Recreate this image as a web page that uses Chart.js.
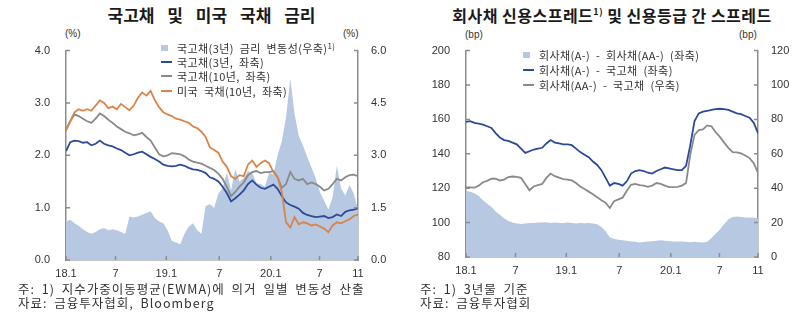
<!DOCTYPE html>
<html>
<head>
<meta charset="utf-8">
<script src="https://cdn.jsdelivr.net/npm/chart.js@4.4.0/dist/chart.umd.min.js"></script>
<style>
    body {
        margin: 0;
        width: 800px;
        height: 329px;
        position: relative;
        overflow: hidden;
        background: #fff;
        color: #333;
        font-family: "Noto Sans CJK KR", sans-serif;
    }
    canvas { position: absolute; }
    .title {
        position: absolute;
        top: 3px;
        text-align: center;
        font-weight: bold;
        font-size: 17px;
        line-height: 24px;
        color: #1a1a1a;
        white-space: nowrap;
    }
    .title sup { font-size: 9px; vertical-align: 7px; line-height: 0; }
    .unit {
        position: absolute;
        font-size: 10px;
        line-height: 12px;
        font-family: "Liberation Sans", "Noto Sans CJK KR", sans-serif;
    }
    .legend {
        position: absolute;
        font-size: 11px;
        letter-spacing: 0.4px;
        word-spacing: 3px;
        color: #333;
        white-space: nowrap;
    }
    .legend .row { display: flex; align-items: center; }
    .legend .mark { width: 16px; display: flex; align-items: center; }
    .legend .box { width: 7px; height: 6px; }
    .legend .line { width: 11px; height: 2px; }
    .legend sup { font-size: 8px; vertical-align: 4px; line-height: 0; }
    .note {
        position: absolute;
        font-size: 12.5px;
        line-height: 14px;
        letter-spacing: 1px;
        word-spacing: 3px;
        color: #333;
        white-space: nowrap;
    }
</style>
</head>
<body>

<div class="title" style="left:66px; width:291px; word-spacing:9px;">국고채 및 미국 국채 금리</div>
<div class="title" style="left:440px; width:344px; font-size:16px; letter-spacing:0.5px;">회사채 신용스프레드<sup>1)</sup> 및 신용등급 간 스프레드</div>

<div class="unit" style="left:65px; top:28px;">(%)</div>
<div class="unit" style="left:343px; top:28px;">(%)</div>
<div class="unit" style="left:465px; top:29px;">(bp)</div>
<div class="unit" style="left:739px; top:29px;">(bp)</div>

<canvas id="rateChart" width="400" height="260" style="left:0; top:28px;"></canvas>
<canvas id="spreadChart" width="400" height="260" style="left:400px; top:28px;"></canvas>

<div class="legend" style="left:161px; top:41px;" id="rateLegend"></div>
<div class="legend" style="left:523px; top:47px;" id="spreadLegend"></div>

<div class="note" style="left:18px; top:282px;">주: 1) 지수가중이동평균(EWMA)에 의거 일별 변동성 산출<br>자료: 금융투자협회, Bloomberg</div>
<div class="note" style="left:420px; top:282px;">주: 1) 3년물 기준<br>자료: 금융투자협회</div>

<script>
// Months since 2018.1 (half-month steps), shared by both charts
const months = [
    0, 0.5, 1, 1.5, 2, 2.5, 3, 3.5, 4, 4.5,
    5, 5.5, 6, 6.5, 7, 7.5, 8, 8.5, 9, 9.5,
    10, 10.5, 11, 11.5, 12, 12.5, 13, 13.5, 14, 14.5,
    15, 15.5, 16, 16.5, 17, 17.5, 18, 18.5, 19, 19.5,
    20, 20.5, 21, 21.5, 22, 22.5, 23, 23.5, 24, 24.5,
    25, 25.5, 26, 26.5, 27, 27.5, 28, 28.5, 29, 29.5,
    30, 30.5, 31, 31.5, 32, 32.5, 33, 33.5, 34, 34.5
];

// X axis tick positions and labels
const xTickValues = [0, 5.85, 11.85, 18.1, 24.2, 29.95, 34.5];
const xTickLabels = ['18.1', '7', '19.1', '7', '20.1', '7', '11'];

// Left chart: rates (%), left axis
const ktb3y = [
    2.08, 2.25, 2.28, 2.27, 2.24, 2.25, 2.19, 2.22, 2.28, 2.22,
    2.19, 2.17, 2.13, 2.10, 2.05, 2.00, 2.02, 2.05, 2.07, 2.02,
    1.97, 1.93, 1.88, 1.82, 1.80, 1.79, 1.80, 1.82, 1.80, 1.76,
    1.73, 1.72, 1.70, 1.66, 1.58, 1.55, 1.50, 1.40, 1.28, 1.12,
    1.18, 1.25, 1.33, 1.45, 1.52, 1.44, 1.38, 1.36, 1.40, 1.44,
    1.36, 1.22, 1.10, 1.05, 1.02, 0.98, 0.90, 0.86, 0.84, 0.82,
    0.83, 0.84, 0.80, 0.82, 0.87, 0.84, 0.92, 0.95, 0.96, 0.99
];
const ktb10y = [
    2.50, 2.65, 2.78, 2.75, 2.70, 2.65, 2.62, 2.70, 2.80, 2.75,
    2.68, 2.62, 2.55, 2.50, 2.45, 2.42, 2.38, 2.40, 2.43, 2.35,
    2.28, 2.15, 2.02, 1.98, 2.00, 2.04, 2.03, 2.02, 1.98, 1.92,
    1.88, 1.86, 1.84, 1.80, 1.76, 1.72, 1.65, 1.55, 1.40, 1.22,
    1.30, 1.40, 1.48, 1.62, 1.68, 1.70, 1.66, 1.68, 1.68, 1.70,
    1.58, 1.38, 1.45, 1.68, 1.55, 1.52, 1.55, 1.45, 1.48, 1.45,
    1.40, 1.33, 1.36, 1.45, 1.55, 1.52, 1.58, 1.62, 1.63, 1.60
];
const us10y = [
    2.47, 2.65, 2.82, 2.88, 2.85, 2.88, 2.85, 2.95, 3.05, 3.00,
    2.90, 2.93, 2.88, 2.98, 2.92, 2.86, 2.95, 3.10, 3.20, 3.14,
    3.23, 3.05, 2.92, 2.82, 2.78, 2.75, 2.70, 2.68, 2.65, 2.62,
    2.55, 2.52, 2.45, 2.35, 2.15, 2.10, 2.05, 1.88, 1.78, 1.60,
    1.55, 1.62, 1.60, 1.82, 1.90, 1.78, 1.85, 1.90, 1.85, 1.68,
    1.58, 1.30, 0.72, 0.62, 0.82, 0.68, 0.72, 0.70, 0.66, 0.68,
    0.64, 0.60, 0.53, 0.66, 0.72, 0.70, 0.74, 0.78, 0.84, 0.87
];
// KTB 3y volatility (right axis)
const ktb3yVol = [
    1.10, 1.15, 1.05, 0.98, 0.88, 0.80, 0.75, 0.80, 0.88, 0.92,
    0.85, 0.88, 0.85, 0.80, 0.75, 1.25, 1.22, 1.25, 1.30, 1.35,
    1.40, 1.20, 1.10, 1.05, 0.85, 0.55, 0.50, 0.45, 0.75, 0.95,
    1.05, 0.85, 0.75, 1.55, 1.60, 1.50, 1.90, 2.05, 2.50, 2.00,
    2.60, 2.25, 2.35, 2.55, 2.50, 2.20, 2.18, 2.10, 2.50, 2.45,
    3.00, 3.40, 4.10, 5.20, 4.20, 3.55, 3.28, 2.95, 2.65, 2.35,
    1.95, 1.70, 1.45, 1.80, 2.70, 2.05, 1.85, 2.15, 1.90, 1.45
];

// Right chart: spreads (bp)
const spreadAvsAA = [
    118.5, 118, 117, 115.5, 113, 111, 109, 106.5, 104.5, 102.5,
    101, 100, 99.5, 99.2, 99.5, 99.8, 99.8, 100, 100, 100.2,
    99.8, 100, 99.8, 99.8, 100, 99.8, 99.5, 99.8, 99.6, 99.8,
    99.5, 99, 97.5, 95, 91.5, 90.5, 90, 89.8, 89.4, 89,
    88.8, 88.5, 88.7, 89, 89.2, 89.5, 89.8, 89.5, 89.2, 89,
    89, 89, 88.8, 88.6, 88.8, 88.6, 88.5, 88.8, 91, 93.5,
    96, 99, 102, 103.2, 103.5, 103.2, 103, 103, 102.8, 102.6
];
const spreadAvsKtb = [
    158.5, 159, 158, 157.5, 157, 156, 155, 152, 149.5, 148,
    147.5, 146.5, 145.5, 143, 140.5, 141.5, 142.5, 143, 143.5, 146,
    148, 146.5, 146, 145.5, 145.5, 145, 143, 141, 139.5, 138,
    135.5, 133.5, 130.5, 126, 121.5, 123, 122.5, 121.5, 124, 128.5,
    130, 130.5, 130, 129, 128.5, 130, 131, 132, 131.5, 131,
    130.5, 130.5, 133, 145, 159, 163.5, 164.5, 165, 165.5, 166,
    166.2, 166, 165.5, 164.5, 163.5, 163, 162, 161, 158, 152
];
const spreadAAvsKtb = [
    40.5, 40.5, 40.3, 41.5, 43.5, 44.3, 45.5, 45.5, 44.5, 45,
    46.5, 46.8, 46.6, 46, 42.5, 38.8, 41, 41.8, 42.5, 46,
    48.5, 47, 46.2, 45.3, 45, 44.5, 43, 41, 39.5, 38,
    36.5, 34.8, 33, 31.5, 28.5, 32.5, 33.5, 34.5, 38.5, 42,
    42.5, 41.8, 41.5, 40.8, 41.5, 43, 42.5, 41.5, 40.6, 40.6,
    40.8, 41.5, 43, 59.5, 71, 73.8, 74.2, 76.5, 76, 72.5,
    69.8, 66.5, 63.5, 61, 60.8, 60.2, 59, 57.5, 54.5, 49
];

// Colours
const fillColor = '#b6c8e2';
const blueColor = '#2c4a9a';
const grayColor = '#8a8a8a';
const orangeColor = '#d9844a';
const axisColor = '#8c8c8c';
const tickFont = { family: 'Liberation Sans', size: 11 };

// Zip x and y into points
function toPoints(values) {
    return months.map((m, i) => ({ x: m, y: values[i] }));
}

// Plugin that draws short tick marks pointing into the plot
const innerTicks = {
    id: 'innerTicks',
    afterDraw(chart) {
        const ctx = chart.ctx;
        const area = chart.chartArea;
        ctx.save();
        ctx.strokeStyle = axisColor;
        ctx.lineWidth = 1.5;
        ctx.beginPath();
        chart.scales.x.ticks.forEach((t, i) => {
            const px = chart.scales.x.getPixelForTick(i);
            ctx.moveTo(px, area.bottom);
            ctx.lineTo(px, area.bottom - 4);
        });
        chart.scales.y.ticks.forEach((t, i) => {
            const py = chart.scales.y.getPixelForTick(i);
            ctx.moveTo(area.left, py);
            ctx.lineTo(area.left + 4, py);
        });
        chart.scales.y1.ticks.forEach((t, i) => {
            const py = chart.scales.y1.getPixelForTick(i);
            ctx.moveTo(area.right, py);
            ctx.lineTo(area.right - 4, py);
        });
        ctx.stroke();
        ctx.restore();
    }
};

// Build the shared options for both charts
function makeOptions(yRange, y1Range, digits, topPad, xHeight) {
    return {
        responsive: false,
        animation: false,
        layout: { padding: { top: topPad, left: 0, right: 0, bottom: 0 } },
        plugins: { legend: { display: false }, tooltip: { enabled: false } },
        elements: { point: { radius: 0 }, line: { tension: 0 } },
        scales: {
            x: {
                type: 'linear',
                min: 0,
                max: 34.5,
                afterBuildTicks: scale => { scale.ticks = xTickValues.map(v => ({ value: v })); },
                afterFit: scale => { scale.height = xHeight; },
                grid: { display: false, drawTicks: false },
                border: { display: true, color: axisColor, width: 1.5 },
                ticks: {
                    padding: 7,
                    font: tickFont,
                    color: '#333',
                    maxRotation: 0,
                    callback: (v, i) => xTickLabels[i]
                }
            },
            y: {
                position: 'left',
                min: yRange[0],
                max: yRange[1],
                afterFit: scale => { scale.width = 66; },
                grid: { display: false, drawTicks: false },
                border: { display: true, color: axisColor, width: 1.5 },
                ticks: { stepSize: yRange[2], padding: 16, font: tickFont, color: '#333',
                    callback: v => v.toFixed(digits) }
            },
            y1: {
                position: 'right',
                min: y1Range[0],
                max: y1Range[1],
                afterFit: scale => { scale.width = 42; },
                grid: { display: false, drawTicks: false },
                border: { display: true, color: axisColor, width: 1.5 },
                ticks: { stepSize: y1Range[2], padding: 13, font: tickFont, color: '#333',
                    callback: v => v.toFixed(digits) }
            }
        }
    };
}

// Chart 1: KTB and US treasury rates
function drawRateChart() {
    const ctx = document.getElementById('rateChart').getContext('2d');
    new Chart(ctx, {
        type: 'line',
        data: {
            datasets: [
                { label: '미국 국채(10년, 좌축)', data: toPoints(us10y), borderColor: orangeColor,
                  borderWidth: 1.8, yAxisID: 'y', order: 1 },
                { label: '국고채(3년, 좌축)', data: toPoints(ktb3y), borderColor: blueColor,
                  borderWidth: 1.8, yAxisID: 'y', order: 2 },
                { label: '국고채(10년, 좌축)', data: toPoints(ktb10y), borderColor: grayColor,
                  borderWidth: 1.8, yAxisID: 'y', order: 3 },
                { label: '국고채(3년) 금리 변동성(우축)', data: toPoints(ktb3yVol), borderWidth: 0,
                  backgroundColor: fillColor, fill: 'origin', yAxisID: 'y1', order: 4 }
            ]
        },
        options: makeOptions([0, 4, 1], [0, 6, 1.5], 1, 14, 28),
        plugins: [innerTicks]
    });
}

// Chart 2: corporate bond credit spreads
function drawSpreadChart() {
    const ctx = document.getElementById('spreadChart').getContext('2d');
    new Chart(ctx, {
        type: 'line',
        data: {
            datasets: [
                { label: '회사채(A-) - 국고채 (좌축)', data: toPoints(spreadAvsKtb), borderColor: blueColor,
                  borderWidth: 1.8, yAxisID: 'y', order: 1 },
                { label: '회사채(AA-) - 국고채 (우축)', data: toPoints(spreadAAvsKtb), borderColor: grayColor,
                  borderWidth: 1.8, yAxisID: 'y1', order: 2 },
                { label: '회사채(A-) - 회사채(AA-) (좌축)', data: toPoints(spreadAvsAA), borderWidth: 0,
                  backgroundColor: fillColor, fill: 'start', yAxisID: 'y', order: 3 }
            ]
        },
        options: makeOptions([80, 200, 20], [0, 120, 20], 0, 15, 31),
        plugins: [innerTicks]
    });
}

// HTML legends placed inside the plots
function buildLegend(id, items) {
    const box = document.getElementById(id);
    items.forEach(item => {
        const row = document.createElement('div');
        row.className = 'row';
        row.style.height = item.h + 'px';
        const mark = document.createElement('span');
        mark.className = 'mark';
        const sw = document.createElement('span');
        sw.className = item.fill ? 'box' : 'line';
        sw.style.background = item.color;
        mark.appendChild(sw);
        const text = document.createElement('span');
        text.innerHTML = item.text;
        row.appendChild(mark);
        row.appendChild(text);
        box.appendChild(row);
    });
}

buildLegend('rateLegend', [
    { fill: true, color: fillColor, text: '국고채(3년) 금리 변동성(우축)<sup>1)</sup>', h: 14.2 },
    { fill: false, color: blueColor, text: '국고채(3년, 좌축)', h: 14.2 },
    { fill: false, color: grayColor, text: '국고채(10년, 좌축)', h: 14.2 },
    { fill: false, color: orangeColor, text: '미국 국채(10년, 좌축)', h: 14.2 }
]);
buildLegend('spreadLegend', [
    { fill: true, color: fillColor, text: '회사채(A-) - 회사채(AA-) (좌축)', h: 15 },
    { fill: false, color: blueColor, text: '회사채(A-) - 국고채 (좌축)', h: 15 },
    { fill: false, color: grayColor, text: '회사채(AA-) - 국고채 (우축)', h: 15 }
]);

drawRateChart();
drawSpreadChart();
</script>
</body>
</html>
